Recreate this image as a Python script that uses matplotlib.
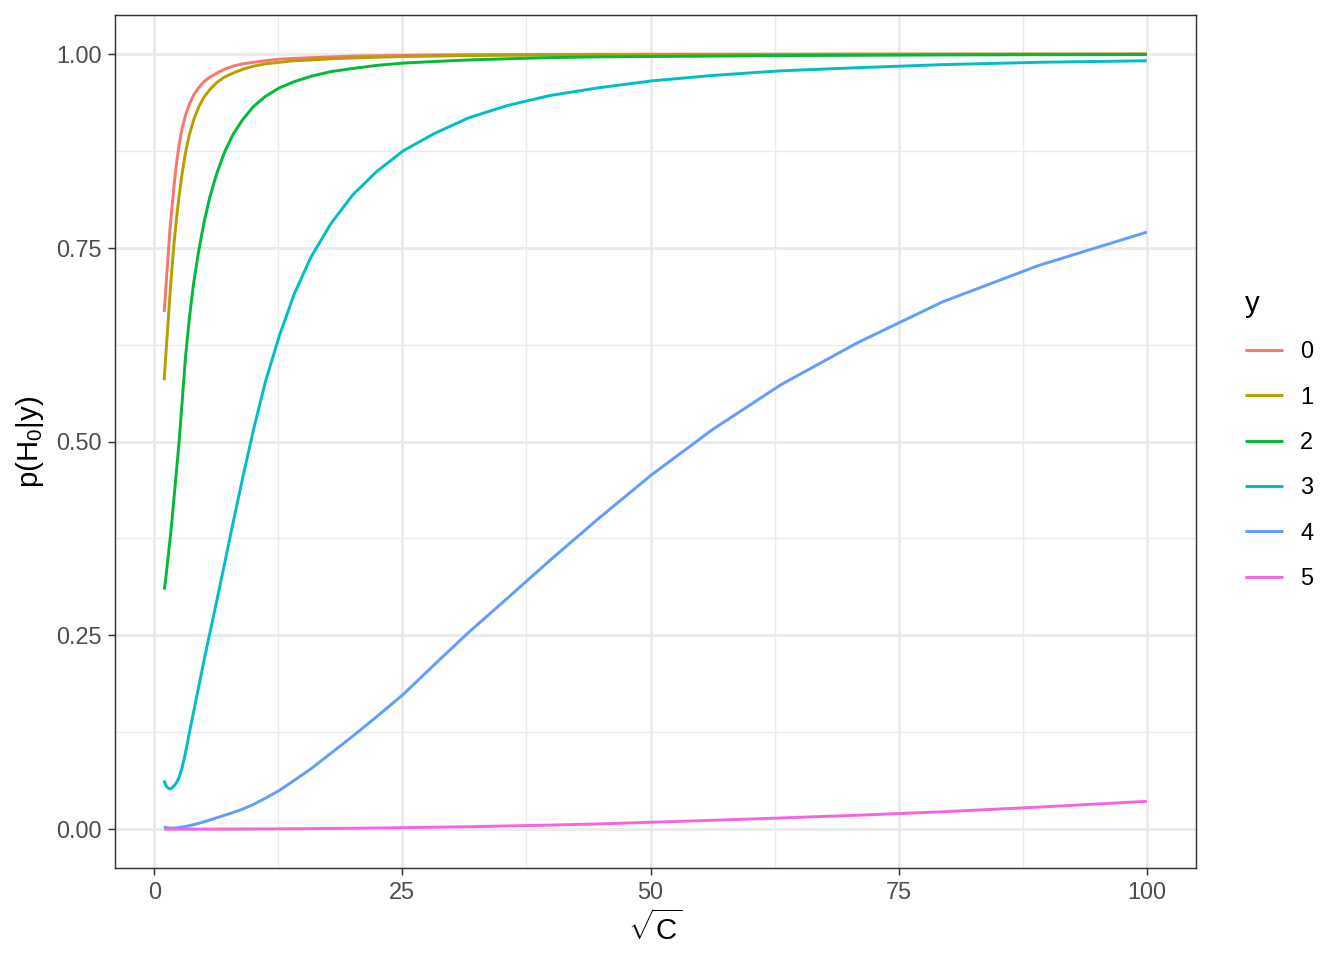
import matplotlib
matplotlib.use("Agg")
import matplotlib.pyplot as plt
from matplotlib.ticker import MultipleLocator

plt.rcParams['font.family'] = ['Liberation Sans', 'DejaVu Sans']
plt.rcParams['mathtext.fontset'] = 'custom'
plt.rcParams['mathtext.rm'] = 'Liberation Sans'
plt.rcParams['mathtext.it'] = 'Liberation Sans:italic'
plt.rcParams['mathtext.bf'] = 'Liberation Sans:bold'

# sqrt(C) values (log spaced)
sqrt_c = [1.0, 1.12, 1.26, 1.41, 1.58, 1.78, 2.0, 2.24, 2.51, 2.82, 3.16, 3.55, 3.98,
          4.47, 5.01, 5.62, 6.31, 7.08, 7.94, 8.91, 10.0, 11.2, 12.6, 14.1, 15.8, 17.8,
          20.0, 22.4, 25.1, 28.2, 31.6, 35.5, 39.8, 44.7, 50.1, 56.2, 63.1, 70.8, 79.4,
          89.1, 100.0]

y_levels = ["0", "1", "2", "3", "4", "5"]

p_y0 = [0.667, 0.688, 0.714, 0.741, 0.772, 0.800, 0.830, 0.858, 0.883, 0.904, 0.921, 0.935, 0.947,
        0.956, 0.964, 0.970, 0.975, 0.980, 0.984, 0.987, 0.989, 0.991, 0.993, 0.994, 0.995, 0.996,
        0.997, 0.9975, 0.998, 0.9985, 0.9988, 0.999, 0.9992, 0.9993, 0.9994, 0.9995, 0.9995, 0.9996, 0.9996,
        0.9997, 0.9997]
p_y1 = [0.579, 0.602, 0.628, 0.656, 0.688, 0.722, 0.756, 0.787, 0.817, 0.846, 0.873, 0.896, 0.915,
        0.931, 0.944, 0.954, 0.963, 0.970, 0.975, 0.980, 0.984, 0.987, 0.989, 0.991, 0.992, 0.9935,
        0.9945, 0.9955, 0.9965, 0.997, 0.9977, 0.998, 0.9983, 0.9986, 0.9988, 0.999, 0.9992, 0.9993, 0.9994,
        0.9995, 0.9996]
p_y2 = [0.309, 0.318, 0.335, 0.352, 0.372, 0.397, 0.428, 0.462, 0.500, 0.552, 0.610, 0.660, 0.705,
        0.745, 0.782, 0.816, 0.846, 0.873, 0.896, 0.915, 0.932, 0.945, 0.956, 0.964, 0.971, 0.977,
        0.981, 0.985, 0.988, 0.990, 0.992, 0.9935, 0.995, 0.996, 0.9965, 0.997, 0.9977, 0.998, 0.9985,
        0.9988, 0.999]
p_y3 = [0.063, 0.058, 0.055, 0.053, 0.052, 0.053, 0.056, 0.060, 0.067, 0.080, 0.099, 0.125, 0.152,
        0.183, 0.217, 0.254, 0.295, 0.342, 0.395, 0.453, 0.515, 0.577, 0.636, 0.690, 0.738, 0.781,
        0.818, 0.848, 0.875, 0.897, 0.917, 0.933, 0.946, 0.956, 0.965, 0.972, 0.978, 0.982, 0.986,
        0.989, 0.991]
p_y4 = [0.0035, 0.0025, 0.0020, 0.0017, 0.0015, 0.0014, 0.0015, 0.0017, 0.0022, 0.0028, 0.0036, 0.0046, 0.0060,
        0.0076, 0.0095, 0.012, 0.0148, 0.018, 0.0215, 0.026, 0.032, 0.040, 0.050, 0.063, 0.078, 0.098,
        0.120, 0.145, 0.174, 0.212, 0.253, 0.297, 0.346, 0.400, 0.457, 0.515, 0.573, 0.627, 0.680,
        0.727, 0.770]
p_y5 = [0.0001, 0.0001, 0.0001, 0.0001, 0.0001, 0.0001, 0.0001, 0.0001, 0.0001, 0.0001, 0.0001, 0.0001, 0.0001,
        0.0001, 0.0001, 0.0001, 0.0002, 0.0002, 0.0002, 0.0003, 0.0003, 0.0004, 0.0005, 0.0006, 0.0008, 0.0010,
        0.0012, 0.0016, 0.0020, 0.0026, 0.0032, 0.0042, 0.0053, 0.0068, 0.0090, 0.0115, 0.0145, 0.0180, 0.0225,
        0.0285, 0.0360]

series = [p_y0, p_y1, p_y2, p_y3, p_y4, p_y5]
colors = ["#F8766D", "#B79F00", "#00BA38", "#00BFC4", "#619CFF", "#F564E3"]

fig = plt.figure(figsize=(7, 5), dpi=192)
ax = fig.add_axes([115/1344, 1-868/960, (1196-115)/1344, (868-15)/960])

handles = []
for lab, vals, col in zip(y_levels, series, colors):
    h, = ax.plot(sqrt_c, vals, color=col, lw=1.1, label=lab, solid_capstyle='butt',
                 solid_joinstyle='round', zorder=3)
    handles.append(h)

ax.set_xlim(1 - 0.05*99, 100 + 0.05*99)
ax.set_ylim(-0.05, 1.05)
ax.xaxis.set_minor_locator(MultipleLocator(12.5))
ax.yaxis.set_minor_locator(MultipleLocator(0.125))
ax.set_yticks([0, 0.25, 0.5, 0.75, 1.0])
ax.set_yticklabels(["0.00", "0.25", "0.50", "0.75", "1.00"])
ax.set_xticks([0, 25, 50, 75, 100])
ax.set_xticklabels(["0", "25", "50", "75", "100"])

ax.grid(which='major', color='#EBEBEB', lw=1.1, zorder=0)
ax.grid(which='minor', color='#EBEBEB', lw=0.55, zorder=0)
ax.set_axisbelow(True)
for s in ax.spines.values():
    s.set_color('#333333')
    s.set_linewidth(0.55)
ax.tick_params(which='major', length=2.75, width=0.55, color='#333333',
               labelsize=8.8, labelcolor='#4D4D4D', pad=2.2)
ax.tick_params(which='minor', length=0)

ax.set_xlabel(r'$\sqrt{\mathrm{C}}$', fontsize=11, labelpad=2)
ax.set_ylabel(r'p(H$_0$|y)', fontsize=11, labelpad=4)

leg = fig.legend(handles=handles, labels=y_levels, title='y', loc='center left',
                 bbox_to_anchor=(1245/1344, 1-440/960), frameon=False, fontsize=8.8,
                 title_fontsize=11, handlelength=1.6, handletextpad=0.75,
                 labelspacing=0.95, borderpad=0, borderaxespad=0, alignment='left')

fig.savefig('out.png', dpi=192)
